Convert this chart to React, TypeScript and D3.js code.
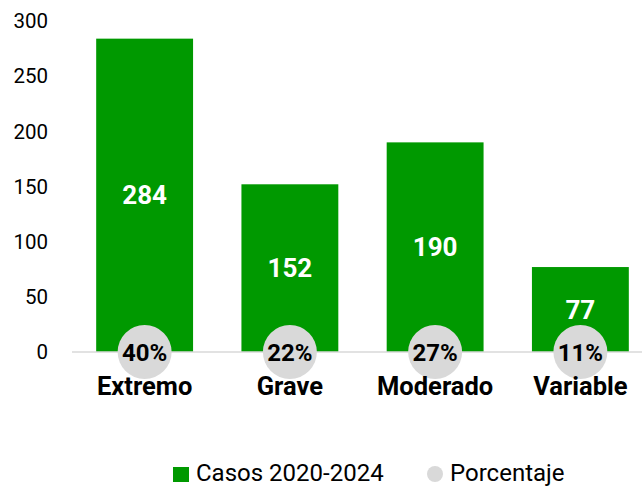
import React from "react";
import * as d3 from "d3";

const categories = ["Extremo", "Grave", "Moderado", "Variable"];
const casos = [284, 152, 190, 77];
const porcentajes = ["40%", "22%", "27%", "11%"];
const yTicks = [0, 50, 100, 150, 200, 250, 300];

const W = 642;
const H = 487;
const GREEN = "#009900";
const GREY = "#d9d9d9";
const FONT = "Roboto, 'Noto Sans', sans-serif";

export default function App() {
  const x = d3.scaleBand<string>().domain(categories).range([72, 653]).paddingInner(0.333).paddingOuter(0.1665);
  const y = d3.scaleLinear().domain([0, 300]).range([352, 21]);
  const bw = x.bandwidth();
  return (
    <svg width={W} height={H} style={{ position: "absolute", left: 0, top: 0, background: "#fff" }} fontFamily={FONT}>
      {yTicks.map((t) => (
        <text key={t} x={48} y={y(t)} dy="0.35em" textAnchor="end" fontSize={20.5} fill="#000">
          {t}
        </text>
      ))}
      {categories.map((c, i) => (
        <rect key={c} x={x(c)!} y={y(casos[i])} width={bw} height={y(0) - y(casos[i])} fill={GREEN} />
      ))}
      <line x1={72} x2={642} y1={y(0)} y2={y(0)} stroke={GREY} strokeWidth={1.5} />
      {categories.map((c, i) => (
        <text key={c + "v"} x={x(c)! + bw / 2} y={(y(casos[i]) + y(0)) / 2} dy="0.35em" textAnchor="middle" fontSize={26} fontWeight="bold" fill="#fff">
          {casos[i]}
        </text>
      ))}
      {categories.map((c, i) => (
        <g key={c + "p"}>
          <circle cx={x(c)! + bw / 2} cy={y(0)} r={27} fill={GREY} />
          <text x={x(c)! + bw / 2} y={361} textAnchor="middle" fontSize={24} fontWeight="bold" fill="#000">
            {porcentajes[i]}
          </text>
        </g>
      ))}
      {categories.map((c) => (
        <text key={c + "l"} x={x(c)! + bw / 2} y={395} textAnchor="middle" fontSize={25.5} fontWeight="bold" fill="#000">
          {c}
        </text>
      ))}
      <rect x={173} y={467} width={16} height={15} fill={GREEN} />
      <text x={196} y={481} fontSize={24} fill="#000">Casos 2020-2024</text>
      <circle cx={435} cy={474} r={8} fill={GREY} />
      <text x={450} y={481} fontSize={24} fill="#000">Porcentaje</text>
    </svg>
  );
}
